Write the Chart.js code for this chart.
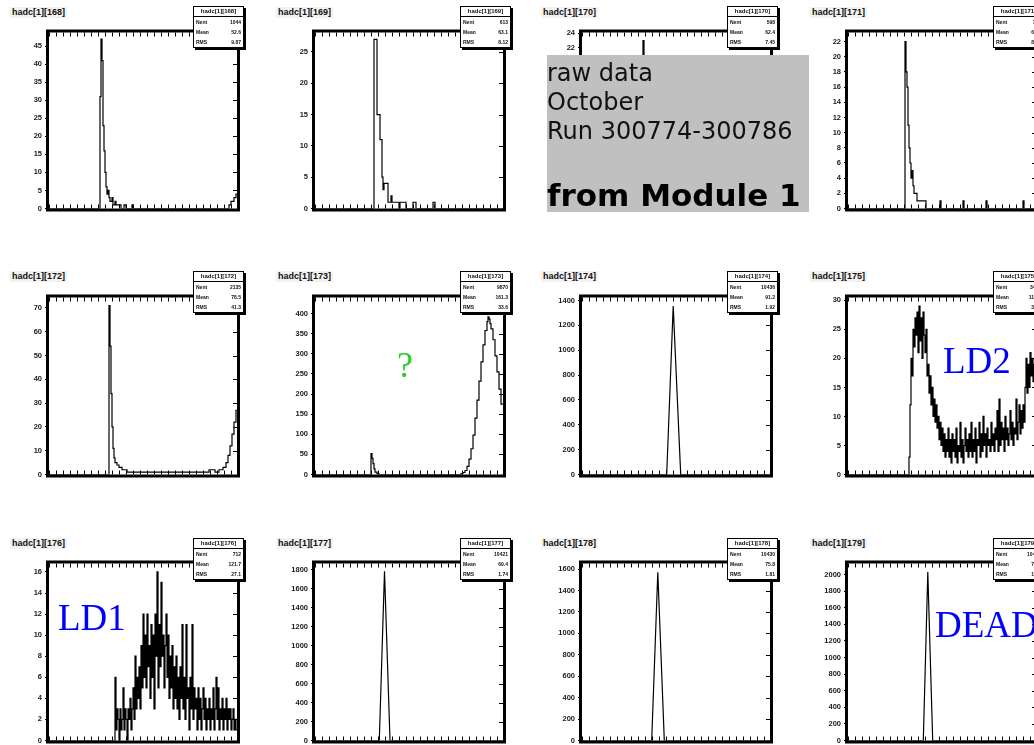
<!DOCTYPE html>
<html>
<head>
<meta charset="utf-8">
<script src="https://cdn.jsdelivr.net/npm/chart.js@4.4.1/dist/chart.umd.min.js"></script>
<style>
  html, body { margin: 0; padding: 0; background: #fff; }
  body { width: 1034px; height: 745px; position: relative; overflow: hidden; }
  canvas.hist { position: absolute; }
  .title { position: absolute; font: bold 9px "Liberation Sans", Arial, sans-serif; color: #111; background: #f2f2f2; padding: 0 2px; line-height: 11px; white-space: nowrap; }
  .stats { position: absolute; width: 49px; background: #fff; border: 1px solid #000; box-shadow: 2px 2px 0 #000; font: bold 5px "Liberation Sans", Arial, sans-serif; color: #111; }
  .stats .hd { text-align: center; border-bottom: 1px solid #000; line-height: 9px; font-size: 6px; }
  .stats .row { display: flex; justify-content: space-between; padding: 0 2px; line-height: 10px; }
  .note { position: absolute; line-height: 1; white-space: nowrap; }
  #runbox { position: absolute; left: 547px; top: 55px; width: 262px; height: 157px; background: #c0c0c0; }
  .box-line { position: absolute; left: 547px; font-family: "DejaVu Sans", Verdana, sans-serif; color: #111; line-height: 1; white-space: nowrap; }
</style>
</head>
<body>
<div id="runbox"></div>
<script>
// channel histograms hadc[1][168..179], raw data, October run 300774-300786
const titles = ['hadc[1][168]', 'hadc[1][169]', 'hadc[1][170]', 'hadc[1][171]',
                'hadc[1][172]', 'hadc[1][173]', 'hadc[1][174]', 'hadc[1][175]',
                'hadc[1][176]', 'hadc[1][177]', 'hadc[1][178]', 'hadc[1][179]'];

const yMaxes = [48.8, 28.1, 24.1, 23.2, 74.4, 440, 1424, 30.5, 16.8, 1865, 1652, 2134];

const ticks168 = [0, 5, 10, 15, 20, 25, 30, 35, 40, 45];
const ticks169 = [0, 5, 10, 15, 20, 25];
const ticks170 = [0, 2, 4, 6, 8, 10, 12, 14, 16, 18, 20, 22, 24];
const ticks171 = [0, 2, 4, 6, 8, 10, 12, 14, 16, 18, 20, 22];
const ticks172 = [0, 10, 20, 30, 40, 50, 60, 70];
const ticks173 = [0, 50, 100, 150, 200, 250, 300, 350, 400];
const ticks174 = [0, 200, 400, 600, 800, 1000, 1200, 1400];
const ticks175 = [0, 5, 10, 15, 20, 25, 30];
const ticks176 = [0, 2, 4, 6, 8, 10, 12, 14, 16];
const ticks177 = [0, 200, 400, 600, 800, 1000, 1200, 1400, 1600, 1800];
const ticks178 = [0, 200, 400, 600, 800, 1000, 1200, 1400, 1600];
const ticks179 = [0, 200, 400, 600, 800, 1000, 1200, 1400, 1600, 1800, 2000];

// small frame ticks along the x axis (channel units, 0..188)
const xMinor = [0, 7, 14, 21, 28, 35, 42, 49, 56, 63, 70, 77, 84, 91, 98, 105,
                112, 119, 126, 133, 140, 147, 154, 161, 168, 175, 182];

// [bin left edge, counts]
const h168 = [[0,0],[51,31],[52,47],[53,41],[54,23],[55,16],[56,10],[57,6],[58,4],[59,5],[60,3],[61,2],[63,3],[64,1],[66,2],[67,1],[70,1],[72,0],[75,1],[77,0],[83,1],[84,0],[180,1],[182,2],[184,2],[185,3],[187,4],[188,4]];
const h169 = [[0,0],[59,27],[62,15],[65,11],[67,5],[68,3],[69,4],[72,4],[73,1],[76,2],[77,1],[80,1],[84,0],[85,1],[90,1],[91,0],[98,1],[101,0],[118,1],[120,0],[188,0]];
const h170 = [[0,0],[61,23],[62,14],[63,8],[64,5],[66,3],[68,2],[70,1],[78,0],[188,0]];
const h171 = [[0,0],[57,22],[58,18],[59,16],[60,11],[61,8],[62,6],[63,4],[64,5],[65,3],[66,2],[68,2],[69,1],[75,1],[78,0],[92,1],[93,0],[115,1],[116,0],[138,1],[139,0],[175,1],[176,0],[188,0]];
const h172 = [[0,0],[60,71],[61,54],[62,34],[63,20],[64,11],[65,7],[66,5],[68,4],[70,3],[73,2],[78,1],[150,1],[160,2],[166,1],[170,2],[174,3],[177,5],[179,8],[181,12],[183,17],[185,22],[187,27],[188,27]];
const h173 = [[0,0],[56,52],[57,40],[58,27],[59,14],[60,6],[62,2],[64,0],[146,2],[148,5],[150,10],[152,20],[154,38],[156,64],[158,98],[160,140],[162,185],[164,232],[166,280],[168,322],[170,358],[172,380],[173,392],[174,386],[175,375],[176,362],[178,335],[180,295],[182,255],[184,212],[186,175],[188,175]];
const h174 = [[0,0],[84.7,0],[91.2,1355],[98.7,0],[188,0]];
const h175 = [[0,0],[61,3],[62,12],[63,20],[64,17],[65,25],[66,22],[67,27],[68,24],[69,28],[70,21],[71,29],[72,23],[73,27],[74,20],[75,28],[76,24],[77,21],[78,25],[79,17],[80,19],[81,14],[82,17],[83,12],[84,15],[85,10],[86,13],[87,9],[88,12],[89,8],[90,10],[91,6],[92,9],[93,5],[94,8],[95,4],[96,7],[97,3],[98,6],[99,4],[100,8],[101,3],[102,6],[103,2],[104,7],[105,4],[106,6],[107,3],[108,8],[109,2],[110,5],[111,4],[112,9],[113,3],[114,6],[115,2],[116,5],[117,8],[118,4],[119,6],[120,3],[121,7],[122,4],[123,9],[124,3],[125,6],[126,4],[127,8],[128,2],[129,6],[130,5],[131,9],[132,3],[133,7],[134,4],[135,10],[136,5],[137,7],[138,3],[139,8],[140,5],[141,6],[142,4],[143,9],[144,5],[145,7],[146,4],[147,8],[148,6],[149,11],[150,4],[151,13],[152,5],[153,9],[154,6],[155,8],[156,4],[157,10],[158,6],[159,8],[160,5],[161,7],[162,11],[163,6],[164,9],[165,5],[166,8],[167,7],[168,13],[169,6],[170,9],[171,12],[172,7],[173,11],[174,8],[175,12],[176,9],[177,15],[178,20],[179,14],[180,19],[181,15],[182,21],[183,17],[184,20],[185,16],[186,19],[187,17],[188,17]];
const h176 = [[0,0],[66,6],[67,1],[68,3],[69,2],[70,0],[71,3],[72,1],[73,2],[74,5],[75,1],[76,3],[77,2],[78,0],[79,3],[80,2],[81,4],[82,1],[83,3],[84,5],[85,2],[86,8],[87,3],[88,6],[89,4],[90,7],[91,3],[92,9],[93,5],[94,12],[95,6],[96,10],[97,5],[98,12],[99,7],[100,9],[101,4],[102,11],[103,6],[104,10],[105,3],[106,12],[107,8],[108,16],[109,5],[110,11],[111,7],[112,15],[113,8],[114,10],[115,5],[116,9],[117,12],[118,6],[119,10],[120,4],[121,8],[122,5],[123,9],[124,3],[125,7],[126,4],[127,8],[128,3],[129,6],[130,2],[131,7],[132,4],[133,11],[134,3],[135,6],[136,2],[137,11],[138,4],[139,5],[140,1],[141,6],[142,3],[143,11],[144,2],[145,5],[146,3],[147,4],[148,1],[149,5],[150,2],[151,4],[152,1],[153,3],[154,5],[155,2],[156,4],[157,1],[158,3],[159,2],[160,4],[161,1],[162,3],[163,2],[164,5],[165,1],[166,3],[167,6],[168,2],[169,5],[170,1],[171,3],[172,2],[173,4],[174,1],[175,3],[176,2],[177,4],[178,1],[179,3],[180,2],[181,3],[182,1],[183,2],[184,3],[185,1],[186,2],[187,1],[188,1]];
const h177 = [[0,0],[64.3,0],[69.5,1782],[75,0],[188,0]];
const h178 = [[0,0],[69.7,0],[75.8,1570],[82.3,0],[188,0]];
const h179 = [[0,0],[75.3,0],[79.8,2030],[84.7,0],[188,0]];

const statNent = ['1044', '613', '598', '702', '2135', '9870', '10436', '3412', '712', '10421', '10430', '10427'];
const statMean = ['52.6', '63.1', '62.4', '60.2', '78.5', '161.3', '91.2', '118.4', '121.7', '69.4', '75.8', '79.8'];
const statRms  = ['9.87', '8.12', '7.45', '8.94', '41.3', '33.6', '1.92', '38.5', '27.1', '1.74', '1.81', '1.66'];

const allTicks = [ticks168, ticks169, ticks170, ticks171, ticks172, ticks173,
                  ticks174, ticks175, ticks176, ticks177, ticks178, ticks179];
const allHists = [h168, h169, h170, h171, h172, h173, h174, h175, h176, h177, h178, h179];
const steppedHist = [true, true, true, true, true, true, false, true, true, false, false, false];

// page layout of the 4 x 3 pads
const colLeft = [49, 315, 582, 848];
const rowTop = [31, 296, 562];
const rowBottom = [210, 476, 742];
const plotW = 188;
const titleLeft = [10, 276, 541, 810];
const titleTop = [7, 271, 538];
const statLeft = [193, 460, 727, 993];
const statTop = [6, 271, 538];
const AXIS_W = 42, PAD = 6;

// ROOT-like frame: thick border, small ticks inside
const rootFrame = {
  id: 'rootFrame',
  afterDatasetsDraw(chart) {
    const { ctx, chartArea: a, scales: { x, y } } = chart;
    ctx.save();
    ctx.strokeStyle = '#000';
    ctx.lineWidth = 1;
    ctx.beginPath();
    x.ticks.forEach(t => {
      const px = Math.round(x.getPixelForValue(t.value)) + 0.5;
      ctx.moveTo(px, a.top); ctx.lineTo(px, a.top + 4);
      ctx.moveTo(px, a.bottom); ctx.lineTo(px, a.bottom - 4);
    });
    y.ticks.forEach(t => {
      const py = Math.round(y.getPixelForValue(t.value)) + 0.5;
      ctx.moveTo(a.right, py); ctx.lineTo(a.right - 4, py);
    });
    ctx.stroke();
    ctx.lineWidth = 3;
    ctx.strokeRect(a.left - 1.5, a.top - 1.5, a.right - a.left + 3, a.bottom - a.top + 3);
    ctx.restore();
  }
};

function addDiv(cls, left, top, html) {
  const d = document.createElement('div');
  d.className = cls;
  d.style.left = left + 'px';
  d.style.top = top + 'px';
  d.innerHTML = html;
  document.body.insertBefore(d, document.getElementById('runbox'));
  return d;
}

titles.forEach((name, i) => {
  const col = i % 4, row = Math.floor(i / 4);
  const h = rowBottom[row] - rowTop[row];
  const canvas = document.createElement('canvas');
  canvas.className = 'hist';
  canvas.width = AXIS_W + plotW + PAD;
  canvas.height = h + 2 * PAD;
  canvas.style.left = (colLeft[col] - AXIS_W) + 'px';
  canvas.style.top = (rowTop[row] - PAD) + 'px';
  document.body.insertBefore(canvas, document.getElementById('runbox'));

  const yt = allTicks[i];
  new Chart(canvas.getContext('2d'), {
    type: 'line',
    data: {
      datasets: [{
        data: allHists[i].map(([x, y]) => ({ x, y })),
        stepped: steppedHist[i] ? 'before' : false,
        borderColor: '#000',
        borderWidth: 1.2,
        pointRadius: 0,
        fill: false,
        tension: 0,
      }],
    },
    options: {
      responsive: false,
      animation: false,
      devicePixelRatio: 1,
      events: [],
      layout: { padding: { top: PAD, right: PAD, bottom: PAD, left: 0 } },
      plugins: { legend: { display: false }, tooltip: { enabled: false } },
      scales: {
        x: {
          type: 'linear', min: 0, max: plotW,
          grid: { display: false }, border: { display: false },
          ticks: { display: false },
          afterBuildTicks: s => { s.ticks = xMinor.map(v => ({ value: v })); },
          afterFit: s => { s.height = 0; },
        },
        y: {
          min: 0, max: yMaxes[i],
          grid: { drawOnChartArea: false, drawTicks: true, tickLength: 4, color: '#000' },
          border: { display: false },
          ticks: {
            padding: 3, color: '#1a1a1a',
            font: { family: 'Liberation Sans', size: 7.5, weight: 'bold' },
            callback: v => String(v),
          },
          afterBuildTicks: s => { s.ticks = yt.map(v => ({ value: v })); },
          afterFit: s => { s.width = AXIS_W; },
        },
      },
    },
    plugins: [rootFrame],
  });

  addDiv('title', titleLeft[col], titleTop[row], name);
  addDiv('stats', statLeft[col], statTop[row],
    '<div class="hd">' + name + '</div>' +
    '<div class="row"><span>Nent</span><span>' + statNent[i] + '</span></div>' +
    '<div class="row"><span>Mean</span><span>' + statMean[i] + '</span></div>' +
    '<div class="row"><span>RMS</span><span>' + statRms[i] + '</span></div>');
});

// annotations on top
function note(text, left, top, css) {
  const d = document.createElement('div');
  d.className = css.cls;
  d.style.left = left + 'px';
  d.style.top = top + 'px';
  Object.assign(d.style, css.style);
  d.textContent = text;
  document.body.appendChild(d);
}
const normal = { cls: 'box-line', style: { fontSize: '24px' } };
note('raw data', 547, 61, normal);
note('October', 547, 90, normal);
note('Run 300774-300786', 547, 119, normal);
note('from Module 1', 547, 180, { cls: 'box-line', style: { fontSize: '31px', fontWeight: 'bold', color: '#000' } });

const serif = (color, size) => ({ cls: 'note', style: { fontFamily: '"Liberation Serif", "Times New Roman", serif', color, fontSize: size + 'px' } });
note('?', 397, 347, serif('#2ecc2e', 36));
note('LD2', 943, 342, serif('#0000ff', 37));
note('LD1', 58, 599, serif('#0000ff', 37));
note('DEAD', 935, 606, serif('#0000ff', 37));
</script>
</body>
</html>
